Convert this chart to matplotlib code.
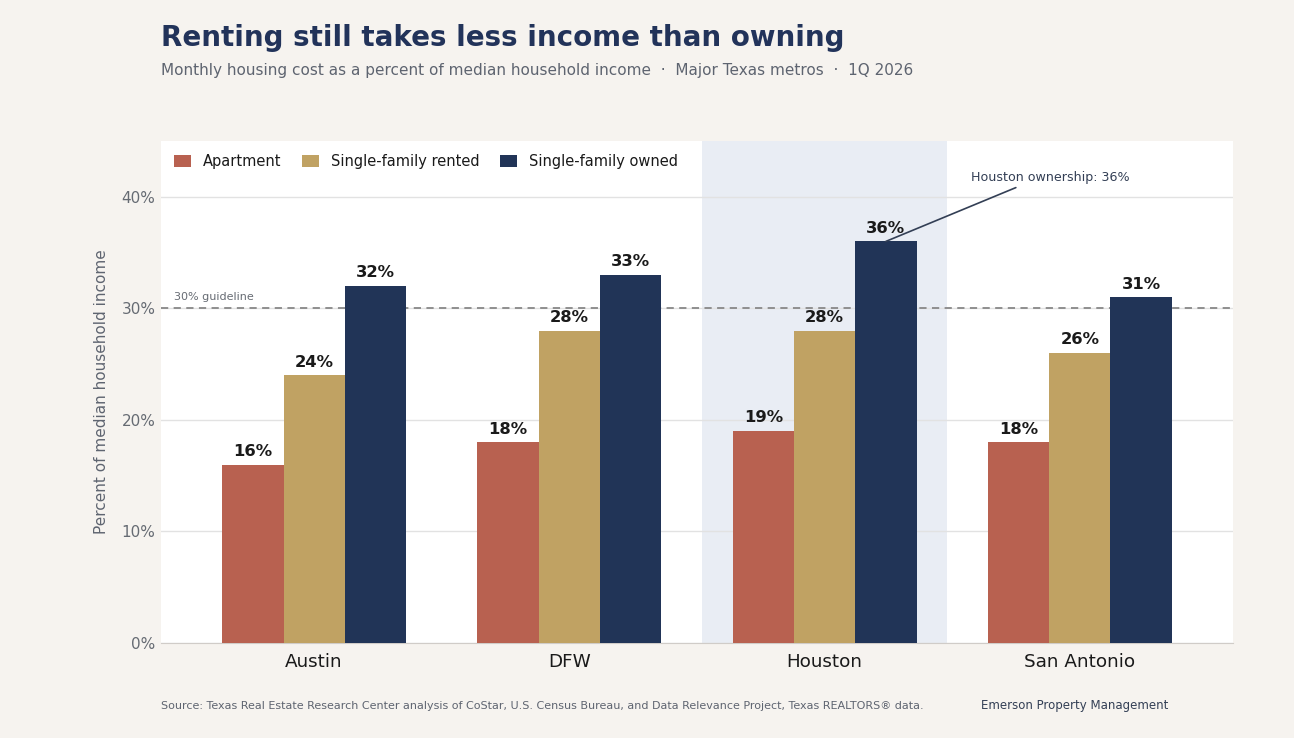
import matplotlib
matplotlib.use("Agg")
import matplotlib.pyplot as plt
import numpy as np

metros = ["Austin", "DFW", "Houston", "San Antonio"]
series_names = ["Apartment", "Single-family rented", "Single-family owned"]
apartment = [16, 18, 19, 18]
sf_rented = [24, 28, 28, 26]
sf_owned = [32, 33, 36, 31]
yticks = [0, 10, 20, 30, 40]

colors = ["#B86150", "#C0A263", "#213457"]
bg = "#F6F3EF"

fig = plt.figure(figsize=(12.94, 7.38), dpi=100, facecolor=bg)
ax = fig.add_axes([161/1294, 1-643/738, (1233-161)/1294, (643-141)/738])
ax.set_facecolor("white")

x = np.arange(len(metros))
w = 0.24
ax.axvspan(1.52, 2.48, color="#E9EDF4", zorder=0, lw=0)
for i, (vals, name) in enumerate(zip([apartment, sf_rented, sf_owned], series_names)):
    bars = ax.bar(x + (i-1)*w, vals, w, color=colors[i], label=name, zorder=3)
    for b, v in zip(bars, vals):
        ax.text(b.get_x()+b.get_width()/2, v+0.5, f"{v}%", ha="center", va="bottom",
                fontsize=11.8, fontweight="bold", color="#1a1a1a", zorder=4)

ax.set_xlim(-0.6, 3.6)
ax.set_ylim(0, 45)
ax.set_yticks(yticks)
ax.set_yticklabels([f"{t}%" for t in yticks])
ax.yaxis.grid(True, color="#E2E2E2", lw=1, zorder=1)
ax.set_axisbelow(True)
ax.set_xticks(x)
ax.set_xticklabels(metros, fontsize=13.2, color="#1a1a1a")
ax.tick_params(axis="y", labelsize=11, colors="#666B73", length=0, pad=4)
ax.tick_params(axis="x", length=0, pad=7)
for s in ["top", "right", "left"]:
    ax.spines[s].set_visible(False)
ax.spines["bottom"].set_color("#D0CCC8")
ax.set_ylabel("Percent of median household income", fontsize=11, color="#5E6470", labelpad=9)

ax.axhline(30, color="#888888", ls=(0, (4, 3)), lw=1.3, zorder=2)
ax.text(0.012, 30.6, "30% guideline", transform=ax.get_yaxis_transform(), fontsize=8.0,
        color="#666B73", va="bottom", ha="left")

ax.annotate("Houston ownership: 36%", xy=(2.24, 36), xytext=(2.885, 41.75),
            ha="center", va="center", fontsize=9.1, color="#333F55",
            arrowprops=dict(arrowstyle="-", color="#333F55", lw=1.2, relpos=(0.34, 0),
                            shrinkA=2, shrinkB=0))

ax.legend(loc="upper left", ncol=3, frameon=False, fontsize=10.5, bbox_to_anchor=(0.0, 1.0),
          handlelength=1.15, handleheight=0.8, columnspacing=1.45, handletextpad=0.8,
          labelcolor="#1a1a1a")

fig.text(161/1294, 1-38/738, "Renting still takes less income than owning", fontsize=20,
         fontweight="bold", color="#22335A", va="center", ha="left")
fig.text(161/1294, 1-70/738, "Monthly housing cost as a percent of median household income  ·  Major Texas metros  ·  1Q 2026",
         fontsize=11, color="#5E6470", va="center", ha="left")
fig.text(161/1294, 1-706/738, "Source: Texas Real Estate Research Center analysis of CoStar, U.S. Census Bureau, and Data Relevance Project, Texas REALTORS® data.",
         fontsize=8.0, color="#5E6470", va="center", ha="left")
fig.text(1168/1294, 1-706/738, "Emerson Property Management", fontsize=8.5, color="#333F55",
         va="center", ha="right")

fig.savefig("out.png", dpi=100, facecolor=bg)
